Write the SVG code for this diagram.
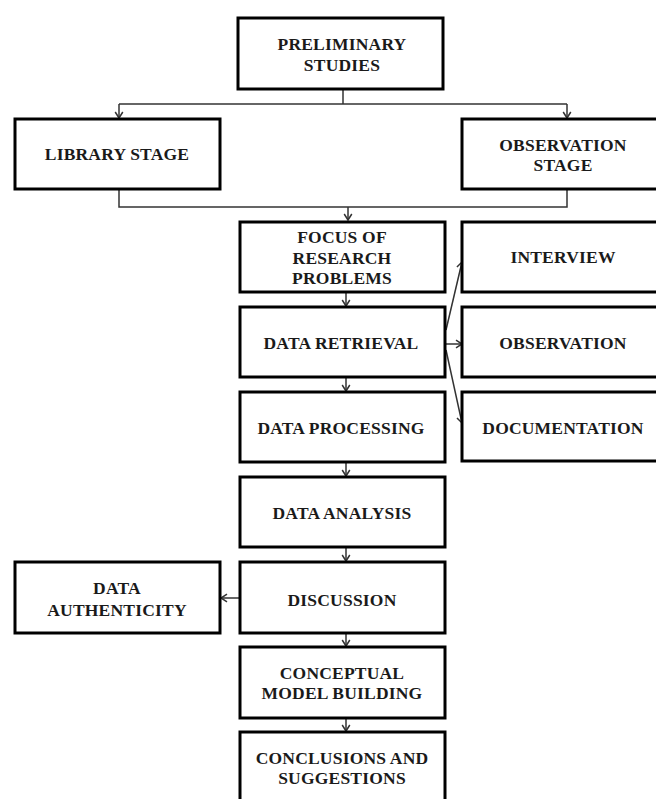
<svg xmlns="http://www.w3.org/2000/svg" width="656" height="799" viewBox="0 0 656 799">
  <style>
    .box { fill: #ffffff; stroke: #000000; stroke-width: 3; }
    .lbl { font-family: "Liberation Serif", "Times New Roman", serif; font-weight: bold; font-size: 17.5px; letter-spacing: 0.2px; fill: #1a1a1a; text-anchor: middle; }
    .con { fill: none; stroke: #333333; stroke-width: 1.5; }
  </style>
  <defs>
    <marker id="arr" markerUnits="userSpaceOnUse" markerWidth="10" markerHeight="10" viewBox="-8 -5 10 10" refX="0" refY="0" orient="auto">
      <path d="M-6,-3.8 L0,0 L-6,3.8" fill="none" stroke="#333333" stroke-width="1.5"/>
    </marker>
  </defs>
  <rect width="656" height="799" fill="#ffffff"/>

  <!-- connectors -->
  <g id="connectors">
    <path class="con" d="M343,89 V104"/>
    <path class="con" d="M119,104 H567"/>
    <path class="con" d="M119,104 V118" marker-end="url(#arr)"/>
    <path class="con" d="M567,104 V118" marker-end="url(#arr)"/>
    <path class="con" d="M119,189 V207 H567 V189"/>
    <path class="con" d="M348,207 V220" marker-end="url(#arr)"/>
    <path class="con" d="M346,292 V306" marker-end="url(#arr)"/>
    <path class="con" d="M346,377 V391" marker-end="url(#arr)"/>
    <path class="con" d="M346,462 V476" marker-end="url(#arr)"/>
    <path class="con" d="M346,547 V561" marker-end="url(#arr)"/>
    <path class="con" d="M346,633 V646" marker-end="url(#arr)"/>
    <path class="con" d="M346,718 V731" marker-end="url(#arr)"/>
    <path class="con" d="M446,330 L462,262" marker-end="url(#arr)"/>
    <path class="con" d="M446,344 H462" marker-end="url(#arr)"/>
    <path class="con" d="M446,350 L462,423" marker-end="url(#arr)"/>
    <path class="con" d="M240,598 H221" marker-end="url(#arr)"/>
  </g>

  <g id="preliminary-studies">
    <rect class="box" x="238" y="18" width="205" height="71"/>
    <text class="lbl" x="342" y="50">PRELIMINARY</text>
    <text class="lbl" x="342" y="71">STUDIES</text>
  </g>
  <g id="library-stage">
    <rect class="box" x="15" y="119" width="205" height="70"/>
    <text class="lbl" x="117" y="160">LIBRARY STAGE</text>
  </g>
  <g id="observation-stage">
    <rect class="box" x="462" y="119" width="205" height="70"/>
    <text class="lbl" x="563" y="151">OBSERVATION</text>
    <text class="lbl" x="563" y="171">STAGE</text>
  </g>
  <g id="focus-of-research-problems">
    <rect class="box" x="240" y="222" width="205" height="70"/>
    <text class="lbl" x="342" y="243">FOCUS OF</text>
    <text class="lbl" x="342" y="264">RESEARCH</text>
    <text class="lbl" x="342" y="284">PROBLEMS</text>
  </g>
  <g id="interview">
    <rect class="box" x="462" y="222" width="205" height="70"/>
    <text class="lbl" x="563" y="263">INTERVIEW</text>
  </g>
  <g id="data-retrieval">
    <rect class="box" x="240" y="307" width="205" height="70"/>
    <text class="lbl" x="341" y="349">DATA RETRIEVAL</text>
  </g>
  <g id="observation">
    <rect class="box" x="462" y="307" width="205" height="70"/>
    <text class="lbl" x="563" y="349">OBSERVATION</text>
  </g>
  <g id="data-processing">
    <rect class="box" x="240" y="392" width="205" height="70"/>
    <text class="lbl" x="341" y="434">DATA PROCESSING</text>
  </g>
  <g id="documentation">
    <rect class="box" x="462" y="392" width="205" height="69"/>
    <text class="lbl" x="563" y="434">DOCUMENTATION</text>
  </g>
  <g id="data-analysis">
    <rect class="box" x="240" y="477" width="205" height="70"/>
    <text class="lbl" x="342" y="519">DATA ANALYSIS</text>
  </g>
  <g id="discussion">
    <rect class="box" x="240" y="562" width="205" height="71"/>
    <text class="lbl" x="342" y="606">DISCUSSION</text>
  </g>
  <g id="data-authenticity">
    <rect class="box" x="15" y="562" width="205" height="71"/>
    <text class="lbl" x="117" y="594">DATA</text>
    <text class="lbl" x="117" y="616">AUTHENTICITY</text>
  </g>
  <g id="conceptual-model-building">
    <rect class="box" x="240" y="647" width="205" height="71"/>
    <text class="lbl" x="342" y="679">CONCEPTUAL</text>
    <text class="lbl" x="342" y="699">MODEL BUILDING</text>
  </g>
  <g id="conclusions-and-suggestions">
    <rect class="box" x="240" y="732" width="205" height="75"/>
    <text class="lbl" x="342" y="764">CONCLUSIONS AND</text>
    <text class="lbl" x="342" y="784">SUGGESTIONS</text>
  </g>
</svg>
